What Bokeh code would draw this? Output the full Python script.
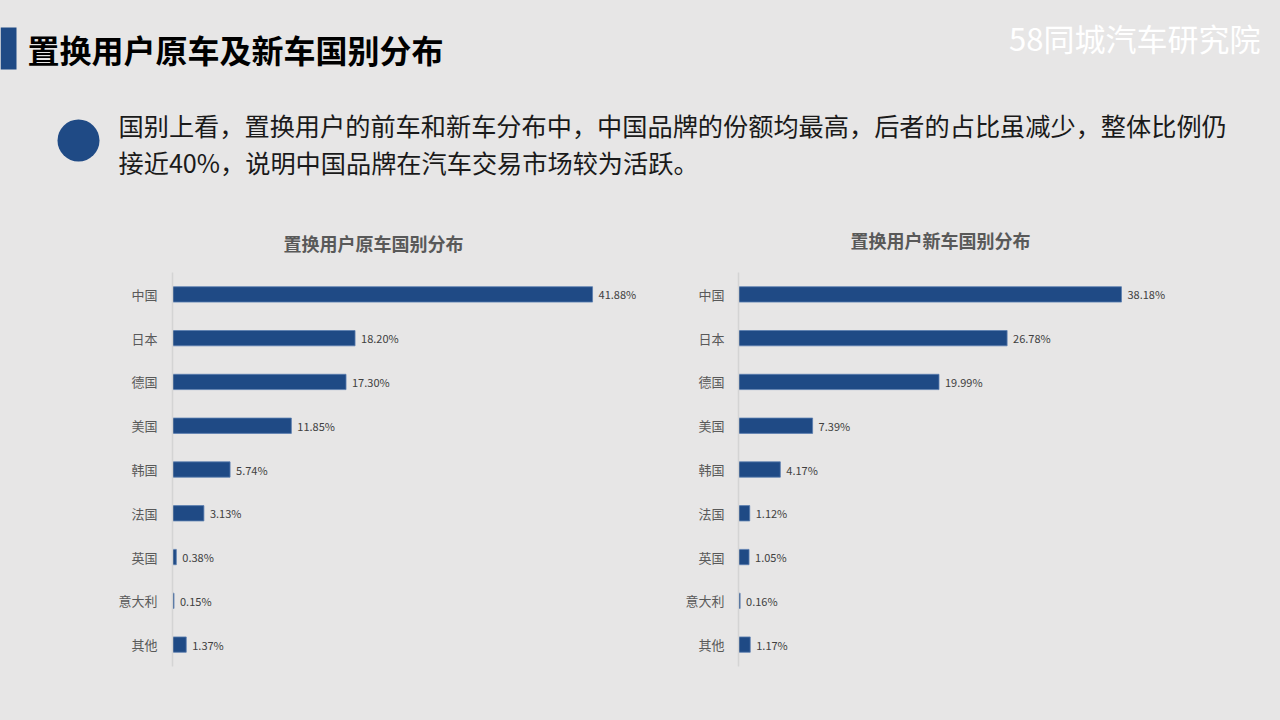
from bokeh.plotting import figure
from bokeh.layouts import column, row
from bokeh.models import Range1d, FactorRange
from bokeh.embed import file_html
from bokeh.resources import INLINE
from bokeh.core.properties import value

# ---- data ----
countries = ["中国", "日本", "德国", "美国", "韩国", "法国", "英国", "意大利", "其他"]
old_share = [41.88, 18.20, 17.30, 11.85, 5.74, 3.13, 0.38, 0.15, 1.37]
new_share = [38.18, 26.78, 19.99, 7.39, 4.17, 1.12, 1.05, 0.16, 1.17]
main_title = "置换用户原车及新车国别分布"
left_title = "置换用户原车国别分布"
right_title = "置换用户新车国别分布"
summary_lines = [
    "国别上看，置换用户的前车和新车分布中，中国品牌的份额均最高，后者的占比虽减少，整体比例仍",
    "接近40%，说明中国品牌在汽车交易市场较为活跃。",
]
logo_text = "58同城汽车研究院"

# ---- style ----
BG = "#e7e6e6"
BLUE = "#1f4a85"
FONT = "Noto Sans CJK SC"
SCALE = 10.03  # px per percent
HEADER_H = 262


def style(p):
    p.grid.visible = False
    p.outline_line_color = None
    p.background_fill_color = None
    p.border_fill_color = None
    p.styles = {"background-color": BG}


# ---- header ----
h = figure(width=1280, height=HEADER_H, x_range=Range1d(0, 1280), y_range=Range1d(HEADER_H, 0),
           output_backend="svg", toolbar_location=None, min_border=0,
           x_axis_location=None, y_axis_location=None)
style(h)
h.quad(left=[0], right=[16], top=[27], bottom=[69], fill_color=BLUE, line_color=None)
h.text(x=[27], y=[48], text=[main_title], text_font=value(FONT), text_font_size="32px",
       text_font_style="bold", text_baseline="middle", text_color="#000000")
h.text(x=[1260], y=[37], text=[logo_text], text_font=value(FONT), text_font_size="31px",
       text_align="right", text_baseline="middle", text_color="#ffffff")
h.circle(x=[78], y=[140], radius=21, fill_color=BLUE, line_color=None)
h.text(x=[118, 118], y=[124, 161], text=summary_lines, text_font=value(FONT),
       text_font_size="25.2px", text_baseline="middle", text_color="#1a1a1a")
h.text(x=[373, 940], y=[242, 239], text=[left_title, right_title], text_font=value(FONT),
       text_font_size="18px", text_font_style="bold", text_align="center",
       text_baseline="middle", text_color="#595959")


def bar_chart(vals, width, border_left, border_top, frame_h, standoff):
    frame_w = width - border_left
    p = figure(width=width, height=720 - HEADER_H,
               y_range=FactorRange(factors=countries[::-1], range_padding=0),
               x_range=Range1d(0, frame_w / SCALE),
               output_backend="svg", toolbar_location=None, x_axis_location=None,
               min_border_left=border_left, min_border_right=0,
               min_border_top=border_top,
               min_border_bottom=720 - HEADER_H - border_top - frame_h)
    style(p)
    p.hbar(y=countries, right=vals, left=0, height=0.35, fill_color=BLUE,
           line_color="#5b7db0", line_width=0.8)
    p.text(x=vals, y=countries, text=[f"{v:.2f}%" for v in vals], x_offset=6,
           text_font=value(FONT), text_font_size="11px", text_baseline="middle",
           text_color="#404040")
    ax = p.yaxis[0]
    ax.major_tick_line_color = None
    ax.minor_tick_line_color = None
    ax.axis_line_color = "#d4d4d4"
    ax.axis_line_width = 1.5
    ax.major_label_text_font = FONT
    ax.major_label_text_font_size = "13px"
    ax.major_label_text_color = "#595959"
    ax.major_label_standoff = standoff
    return p


left = bar_chart(old_share, 660, 172, 10, 394, 9)
right = bar_chart(new_share, 620, 78, 8, 396, 8)

layout = column(h, row(left, right, styles={"background-color": BG}),
                styles={"background-color": BG})
open("out.html", "w").write(file_html(layout, INLINE))
